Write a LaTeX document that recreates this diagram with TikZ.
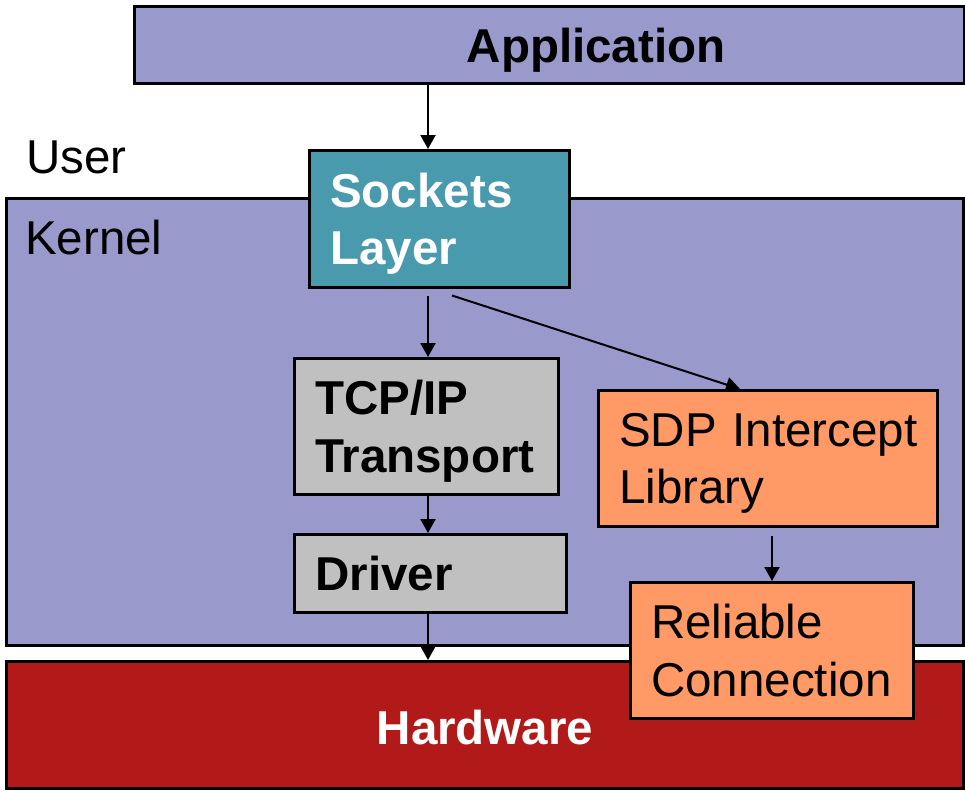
\documentclass[tikz,border=0pt]{standalone}
\usepackage{fontspec}
\setmainfont{Liberation Sans}
\usetikzlibrary{arrows.meta}
\definecolor{lav}{HTML}{9999CC}
\definecolor{teal2}{HTML}{4A9AAD}
\definecolor{hw}{HTML}{B21A1A}
\definecolor{gry}{HTML}{C0C0C0}
\definecolor{org}{HTML}{FF9966}
\tikzset{
  big/.style={font=\fontsize{47.5}{57.5}\selectfont},
  bigb/.style={font=\fontsize{47.5}{57.5}\selectfont\bfseries},
  frame/.style={draw=black, line width=3pt, rectangle, anchor=north west, inner sep=0pt},
  box/.style={draw=black, line width=2.5pt, rectangle, anchor=north west, align=left, inner xsep=21pt, inner ysep=0pt, big},
  arr/.style={line width=2pt, -{Triangle[width=15pt,length=14pt]}},
}
\begin{document}
\begin{tikzpicture}[x=1pt,y=-1pt]
\useasboundingbox (0,0) rectangle (965,790);
\node[frame, fill=lav, minimum width=957, minimum height=447] (kern) at (5,197) {};
\node[frame, fill=hw, minimum width=957, minimum height=127] (hw) at (5,660) {};
\node[bigb, text=white, text depth=0pt] (hwt) at (485,727) {Hardware};
\node[frame, fill=lav, minimum width=830, minimum height=77] (app) at (133,5) {};
\node[bigb, text depth=0pt] (appt) at (596,45) {Application};
\node[big, anchor=west, inner sep=0pt, text depth=0pt] (user) at (26,157) {User};
\node[big, anchor=west, inner sep=0pt, text depth=0pt] (kernt) at (25,237) {Kernel};
\node[box, fill=teal2, text=white, bigb, minimum height=137, text width=218] (sock) at (308,149) {\mbox{Sockets}\\\smash{Layer}};
\node[box, fill=gry, bigb, minimum height=136, text width=222] (tcp) at (293,357) {\mbox{TCP/IP}\\\smash{Transport}};
\node[box, fill=gry, bigb, minimum height=78, text width=230, text depth=0pt] (drv) at (293,533) {Driver};
\node[box, fill=org, minimum height=136, text width=297] (sdp) at (597,389) {\mbox{SDP Intercept}\\\smash{Library}};
\node[box, fill=org, minimum height=136, text width=241] (rel) at (629,581) {\mbox{Reliable}\\\smash{Connection}};
\coordinate (cx) at (428,0);
\coordinate (cy) at (452,0);
\coordinate (cz) at (772,0);
\draw[arr] (app.south -| cx) -- (sock.north -| cx);
\draw[arr] ([yshift=-7pt]sock.south -| cx) -- (tcp.north -| cx);
\draw[arr] ([yshift=-7pt]sock.south -| cy) -- ([xshift=143pt]sdp.north west);
\draw[arr] (tcp.south -| cx) -- (drv.north -| cx);
\draw[arr] (drv.south -| cx) -- (hw.north -| cx);
\draw[arr] ([yshift=-8pt]sdp.south -| cz) -- (rel.north -| cz);
\end{tikzpicture}
\end{document}
